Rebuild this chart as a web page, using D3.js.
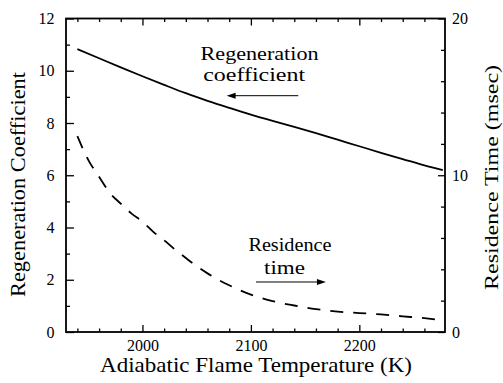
<!DOCTYPE html>
<html>
<head>
<meta charset="utf-8">
<script src="https://cdn.jsdelivr.net/npm/d3@7"></script>
<style>
  body { margin: 0; background: #fff; }
  svg { display: block; }
</style>
</head>
<body>
<div id="chart"></div>
<script>
// values
var regenTemps = [1940, 1960, 1980, 2000, 2020, 2040, 2060, 2080, 2100, 2120, 2140, 2160, 2180, 2200, 2220, 2240, 2260, 2277];
var regenCoef  = [10.83, 10.48, 10.13, 9.79, 9.46, 9.14, 8.85, 8.58, 8.32, 8.08, 7.85, 7.61, 7.36, 7.11, 6.86, 6.62, 6.38, 6.20];

var resTemps = [1940, 1950, 1960, 1970, 1980, 1990, 2000, 2010, 2020, 2030, 2040, 2050, 2060, 2070, 2080, 2090, 2100, 2120, 2140, 2160, 2180, 2200, 2220, 2240, 2260, 2277];
var resTime  = [12.5, 10.98, 9.9, 8.87, 8.19, 7.55, 7.04, 6.39, 5.85, 5.26, 4.72, 4.2, 3.74, 3.33, 2.98, 2.66, 2.39, 1.97, 1.69, 1.46, 1.3, 1.21, 1.12, 1.0, 0.88, 0.75];

var xMajor = [2000, 2100, 2200];
var xMinor = [1940, 1960, 1980, 2020, 2040, 2060, 2080, 2120, 2140, 2160, 2180, 2220, 2240, 2260];
var yLeftMajor = [0, 2, 4, 6, 8, 10, 12];
var yLeftMinor = [1, 3, 5, 7, 9, 11];
var yRightMajor = [0, 10, 20];
var yRightMinor = [2, 4, 6, 8, 12, 14, 16, 18];

;(function (window, document, undefined) {

  'use strict';

  var SERIF = '"Liberation Serif", "Times New Roman", "DejaVu Serif", serif';
  var width = 503, height = 383;
  var left = 66, right = 445, top = 18.5, bottom = 332;

  var svg = d3.select('#chart').append('svg')
    .attr('width', width)
    .attr('height', height)
    .attr('font-family', SERIF);

  var x = d3.scaleLinear().domain([1929.5, 2279]).range([left, right]);
  var yL = d3.scaleLinear().domain([0, 12]).range([bottom, top]);
  var yR = d3.scaleLinear().domain([0, 20]).range([bottom, top]);

  var _axis = function (gen, tx, ty, values, size, pad, labels) {
    var g = svg.append('g')
      .attr('transform', 'translate(' + tx + ',' + ty + ')')
      .call(gen.tickValues(values).tickSize(size).tickPadding(pad)
        .tickFormat(labels ? d3.format('d') : ''));
    g.attr('font-family', SERIF).attr('font-size', 16);
    g.select('.domain').remove();
    g.selectAll('.tick line').attr('stroke', '#000').attr('stroke-width', 1.3);
    g.selectAll('.tick text')
      .attr('fill', '#000')
      .style('font-family', SERIF)
      .style('font-size', '16px');
    return g;
  };

  // bottom / top
  _axis(d3.axisBottom(x), 0, bottom, xMajor, -7, 8, true);
  _axis(d3.axisBottom(x), 0, bottom, xMinor, -3.5, 0, false);
  _axis(d3.axisTop(x), 0, top, xMajor, -7, 0, false);
  _axis(d3.axisTop(x), 0, top, xMinor, -3.5, 0, false);

  // left
  _axis(d3.axisLeft(yL), left, 0, yLeftMajor, -8, 11.5, true);
  _axis(d3.axisLeft(yL), left, 0, yLeftMinor, -4, 0, false);

  // right
  _axis(d3.axisRight(yR), right, 0, yRightMajor, -7, 7, true);
  _axis(d3.axisRight(yR), right, 0, yRightMinor, -4, 0, false);

  svg.append('rect')
    .attr('x', left).attr('y', top)
    .attr('width', right - left).attr('height', bottom - top)
    .attr('fill', 'none').attr('stroke', '#000').attr('stroke-width', 1.8);

  var regenLine = d3.line()
    .x(function (d, i) { return x(regenTemps[i]); })
    .y(function (d) { return yL(d); })
    .curve(d3.curveMonotoneX);

  var resLine = d3.line()
    .x(function (d, i) { return x(resTemps[i]); })
    .y(function (d) { return yR(d); })
    .curve(d3.curveMonotoneX);

  svg.append('path')
    .datum(regenCoef)
    .attr('d', regenLine)
    .attr('fill', 'none').attr('stroke', '#000').attr('stroke-width', 1.8);

  svg.append('path')
    .datum(resTime)
    .attr('d', resLine)
    .attr('fill', 'none').attr('stroke', '#000').attr('stroke-width', 1.8)
    .attr('stroke-dasharray', '13,10');

  // annotations
  var _label = function (tx, ty, str, size, len) {
    svg.append('text')
      .attr('x', tx).attr('y', ty)
      .attr('text-anchor', 'middle')
      .attr('textLength', len)
      .attr('lengthAdjust', 'spacingAndGlyphs')
      .style('font-family', SERIF)
      .style('font-size', size + 'px')
      .text(str);
  };

  _label(x(2108), yL(10.41), 'Regeneration', 19, 118);
  _label(x(2103), yL(9.59), 'coefficient', 19, 102);
  _label(x(2136), yR(5.19), 'Residence', 19, 83);
  _label(x(2131), yR(3.70), 'time', 19, 41);

  var _arrow = function (x0, x1, yy) {
    var dir = x1 > x0 ? 1 : -1;
    svg.append('line')
      .attr('x1', x0).attr('x2', x1 - dir * 7)
      .attr('y1', yy).attr('y2', yy)
      .attr('stroke', '#000').attr('stroke-width', 1);
    svg.append('path')
      .attr('d', 'M' + x1 + ',' + yy + 'L' + (x1 - dir * 9) + ',' + (yy - 3) +
                 'L' + (x1 - dir * 9) + ',' + (yy + 3) + 'Z')
      .attr('fill', '#000');
  };

  _arrow(x(2143.7), x(2077.6), yL(9.045));
  _arrow(x(2104.7), x(2169.2), yR(3.19));

  // axis titles
  svg.append('text')
    .attr('x', (left + right) / 2 + 0.5).attr('y', 372)
    .attr('text-anchor', 'middle')
    .attr('textLength', 312)
    .attr('lengthAdjust', 'spacingAndGlyphs')
    .style('font-family', SERIF)
    .style('font-size', '21.5px')
    .text('Adiabatic Flame Temperature (K)');

  svg.append('text')
    .attr('transform', 'translate(25,184.5) rotate(-90)')
    .attr('text-anchor', 'middle')
    .attr('textLength', 225)
    .attr('lengthAdjust', 'spacingAndGlyphs')
    .style('font-family', SERIF)
    .style('font-size', '20px')
    .text('Regeneration Coefficient');

  svg.append('text')
    .attr('transform', 'translate(498,177.5) rotate(-90)')
    .attr('text-anchor', 'middle')
    .attr('textLength', 225)
    .attr('lengthAdjust', 'spacingAndGlyphs')
    .style('font-family', SERIF)
    .style('font-size', '19px')
    .text('Residence Time (msec)');

})(window, document);
</script>
</body>
</html>
